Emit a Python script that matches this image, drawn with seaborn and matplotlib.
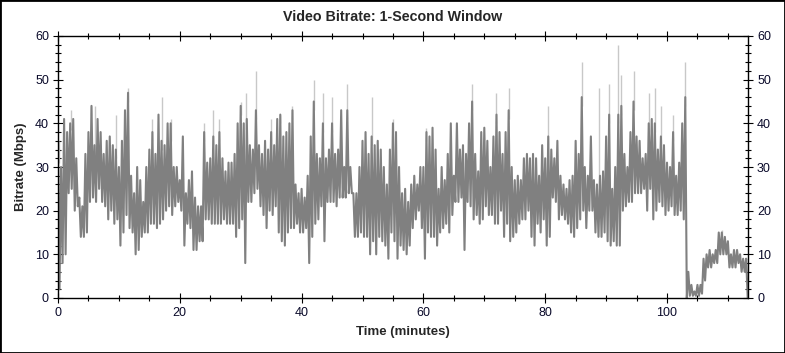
import numpy as np
import pandas as pd
import seaborn as sns
import matplotlib
matplotlib.use("Agg")
import matplotlib.pyplot as plt
from matplotlib.ticker import MultipleLocator
from matplotlib.patches import Rectangle

step_min = 0.5
hi = [35,30,41,38,40,41,32,23,21,33,38,44,35,41,38,33,36,37,35,34,
      30,36,43,47,28,24,30,27,22,30,34,38,33,42,36,35,40,40,30,30,
      27,37,24,27,29,23,21,21,38,31,32,37,35,38,32,29,31,31,33,40,
      44,40,41,35,34,43,35,33,36,34,38,35,41,42,37,38,40,43,26,24,
      25,23,28,37,45,33,32,40,32,34,40,33,34,43,30,43,30,24,24,30,
      36,38,33,37,35,36,34,30,26,34,40,38,30,24,25,22,26,28,26,30,
      30,38,37,39,34,25,30,27,33,40,28,40,34,35,33,40,45,33,29,38,
      39,36,30,37,42,38,33,38,43,30,27,28,27,32,33,32,33,32,28,35,
      32,37,34,32,36,28,26,25,27,28,36,33,46,30,28,37,27,26,28,29,
      37,42,25,30,42,44,33,30,38,45,37,36,32,33,40,41,40,34,37,35,
      31,30,38,28,31,40,46,6,3,1.5,3,3,9,10,11,10,11,15,15,14,
      13,10,11,11,10,9,9]
lo = [2,8,10,24,25,20,21,14,14,15,22,23,22,25,22,21,18,20,17,18,
      12,15,19,16,15,10,11,14,15,15,17,17,16,17,18,20,21,19,21,22,
      20,12,17,16,11,11,13,13,18,18,17,17,17,17,18,17,17,17,14,16,
      18,8,22,22,24,25,21,19,16,20,19,21,15,13,12,15,16,16,17,15,
      15,16,8,14,17,18,21,13,22,22,22,21,23,23,23,24,24,14,14,15,
      14,14,10,13,10,14,13,12,9,15,13,9,12,11,10,12,16,18,20,16,
      9,15,14,14,12,15,16,17,15,19,22,22,23,11,22,21,18,19,17,18,
      21,19,19,17,17,20,14,17,13,14,15,17,18,18,20,14,12,17,15,18,
      12,14,23,22,18,19,18,17,15,14,16,18,20,16,20,20,15,14,14,15,
      13,12,13,12,12,20,21,22,22,24,24,24,25,20,25,18,20,22,21,19,
      20,21,19,19,20,18,0,0.5,0.5,0.5,0.5,1,4,7,7,8,8,10,10,10,
      7,7,7,8,6,6,0]
# light-grey peaks (minute, Mbps)
spike_t = [0.2,2.2,5.5,6.0,9.5,11.5,15.5,17,18.6,24,25.5,26.5,30,30.9,32.5,35,36.5,38.5,
           42,43.5,45,47.5,51.5,55,60.5,68,72,74,80.5,86,88.9,90.5,92,92.5,94.5,97,98,99,
           101,103,109]
spike_v = [36,43,44,44,42,48,41,46,41,40,43,41,45,47,52,41,42,44,
           50,47,46,49,46,41,39,49,47,48,44,54,48,49,58,51,52,47,48,44,
           42,54,15.5]

x_ticks = [0, 20, 40, 60, 80, 100]
y_ticks = [0, 10, 20, 30, 40, 50, 60]

t = np.arange(len(hi)) * step_min
xs = np.ravel(np.column_stack([t, t + step_min / 2]))
ys = np.ravel(np.column_stack([hi, lo]))
df = pd.DataFrame({"Time (minutes)": xs, "Bitrate (Mbps)": ys})

sns.set_style("white")
plt.rcParams["font.family"] = ["Liberation Sans", "DejaVu Sans"]

fig = plt.figure(figsize=(7.85, 3.53), dpi=100)
ax = fig.add_axes([58/785, 55/353, 690/785, 262/353])

spike_base = np.interp(spike_t, t, hi) - 2
ax.vlines(spike_t, spike_base, spike_v, color="#c8c8c8", lw=1.0, zorder=1)
sns.lineplot(data=df, x="Time (minutes)", y="Bitrate (Mbps)", ax=ax, color="#808080",
             lw=1.5, sort=False, estimator=None, zorder=2)

ax.set_xlim(0, 113.3)
ax.set_ylim(0, 60)
ax.set_xticks(x_ticks)
ax.set_yticks(y_ticks)
ax.xaxis.set_minor_locator(MultipleLocator(5))
ax.yaxis.set_minor_locator(MultipleLocator(2))
ax.tick_params(which="both", direction="inout", top=True, right=True, bottom=True, left=True,
               labelright=True, labeltop=False, labelsize=9, labelcolor="#0a0a2a",
               color="black", width=0.8)
ax.tick_params(which="major", length=7, pad=3)
ax.tick_params(which="minor", length=4)
for s in ax.spines.values():
    s.set_color("black")
    s.set_linewidth(1.0)

ax.set_xlabel("Time (minutes)", fontsize=9.5, fontweight="bold", labelpad=5)
ax.set_ylabel("Bitrate (Mbps)", fontsize=9.5, fontweight="bold", labelpad=6)
fig.text(0.5, 1 - 17/353, "Video Bitrate: 1-Second Window", ha="center", va="center",
         fontsize=10.3, fontweight="bold")
fig.add_artist(Rectangle((0, 0), 1, 1, transform=fig.transFigure, fill=False,
                         ec="black", lw=2, clip_on=False))

fig.savefig("out.png", dpi=100)
